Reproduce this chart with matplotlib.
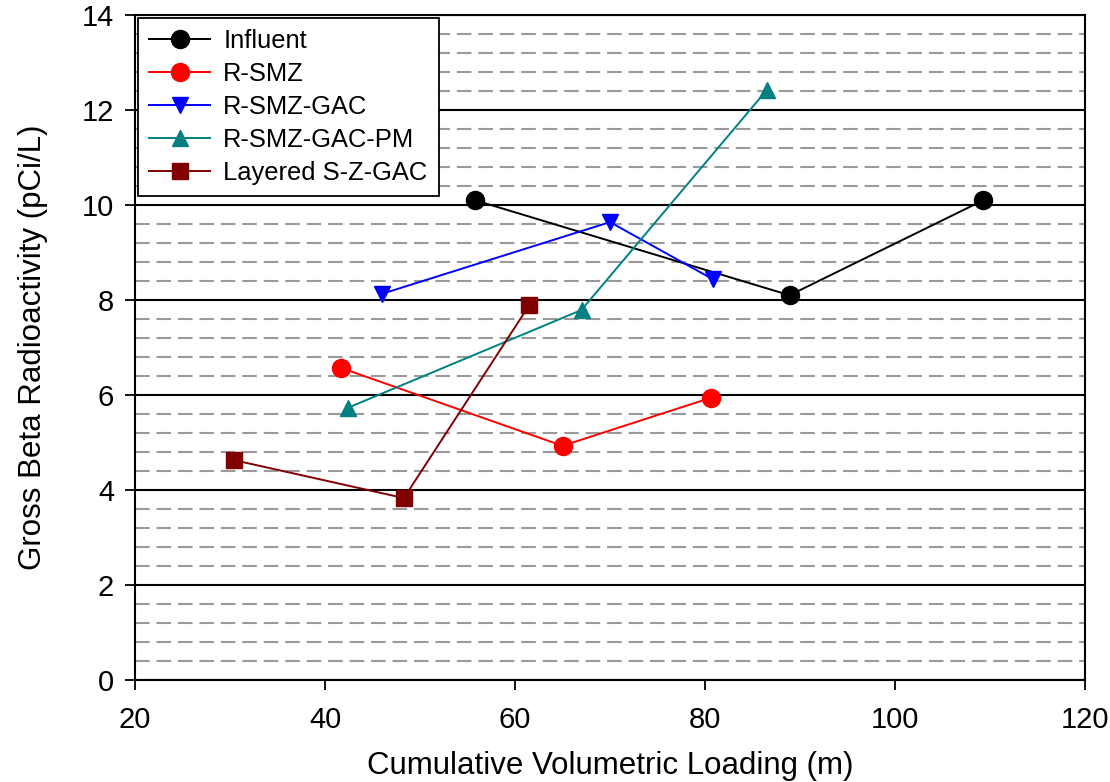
import matplotlib
matplotlib.use("Agg")
import matplotlib.pyplot as plt
import numpy as np

plt.rcParams['font.family'] = ['Liberation Sans', 'DejaVu Sans']

influent_x = [55.8, 88.9, 109.3]
influent_y = [10.1, 8.1, 10.1]
rsmz_x = [41.7, 65.0, 80.6]
rsmz_y = [6.57, 4.93, 5.94]
rsmzgac_x = [46.0, 70.0, 80.8]
rsmzgac_y = [8.13, 9.64, 8.44]
rsmzgacpm_x = [42.4, 67.0, 86.5]
rsmzgacpm_y = [5.73, 7.79, 12.42]
layered_x = [30.4, 48.3, 61.5]
layered_y = [4.63, 3.83, 7.89]

series = [
    ("Influent", influent_x, influent_y, "black", "o"),
    ("R-SMZ", rsmz_x, rsmz_y, "red", "o"),
    ("R-SMZ-GAC", rsmzgac_x, rsmzgac_y, "blue", "v"),
    ("R-SMZ-GAC-PM", rsmzgacpm_x, rsmzgacpm_y, "#008080", "^"),
    ("Layered S-Z-GAC", layered_x, layered_y, "#800000", "s"),
]

fig = plt.figure(figsize=(11.1, 7.82), dpi=100)
ax = fig.add_axes([135/1110, 102/782, 950/1110, 665/782])

ax.set_xlim(20, 120)
ax.set_ylim(0, 14)
ax.set_xticks(np.arange(20, 121, 20))
ax.set_yticks(np.arange(0, 15, 2))
ax.set_yticks(np.arange(0, 14.01, 0.4), minor=True)
ax.grid(True, which='major', axis='y', color='black', linewidth=1.5)
ax.grid(True, which='minor', axis='y', color='#9a9a9a', linewidth=1.5, linestyle=(0, (7, 3.3)))
ax.set_axisbelow(True)
ax.tick_params(which='minor', length=0)
ax.tick_params(which='major', direction='out', length=7, width=1.3, labelsize=21, colors='black')
ax.tick_params(axis='x', pad=12)
ax.tick_params(axis='y', pad=8)
for s in ax.spines.values():
    s.set_linewidth(1.5)

for label, xs, ys, c, m in series:
    ms = {'o': 13, 'v': 12, '^': 12, 's': 11}[m]
    ax.plot(xs, ys, color=c, marker=m, markersize=ms, linewidth=1.4, label=label, zorder=3)

ax.set_xlabel("Cumulative Volumetric Loading (m)", fontsize=22.5, labelpad=12)
ax.set_ylabel("Gross Beta Radioactivity (pCi/L)", fontsize=22.5, labelpad=24)

leg = ax.legend(loc='upper left', fontsize=18.4, frameon=True, fancybox=False,
                edgecolor='black', framealpha=1, borderaxespad=0.1,
                handlelength=2.4, handletextpad=0.5, labelspacing=0.35, borderpad=0.45)
leg.get_frame().set_linewidth(1.3)

fig.savefig("out.png", dpi=100)
